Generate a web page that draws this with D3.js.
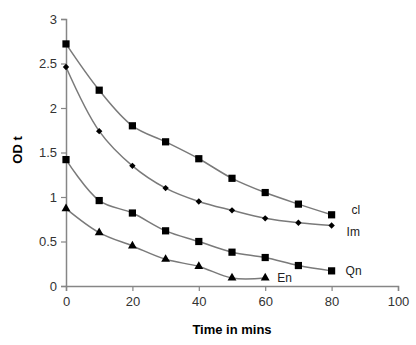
<!DOCTYPE html>
<html>
<head>
<meta charset="utf-8">
<script src="https://cdn.jsdelivr.net/npm/d3@7"></script>
<style>
  body { margin: 0; background: #fff; }
  text { font-family: "Liberation Sans", Arial, sans-serif; }
</style>
</head>
<body>
<div id="chart"></div>
<script>
const times = [0, 10, 20, 30, 40, 50, 60, 70, 80];
const clValues = [2.72, 2.2, 1.8, 1.62, 1.43, 1.21, 1.05, 0.92, 0.8];
const imValues = [2.46, 1.74, 1.35, 1.1, 0.95, 0.85, 0.76, 0.71, 0.68];
const qnValues = [1.42, 0.96, 0.82, 0.62, 0.5, 0.38, 0.32, 0.23, 0.17];
const enTimes = [0, 10, 20, 30, 40, 50, 60];
const enValues = [0.87, 0.6, 0.45, 0.3, 0.22, 0.09, 0.09];
const xTicks = [0, 20, 40, 60, 80, 100];
const yTicks = [0, 0.5, 1, 1.5, 2, 2.5, 3];

// label offsets from the last point of each curve
const series = [
  { name: "cl", x: times, y: clValues, marker: "square", dx: 20, dy: -1 },
  { name: "Im", x: times, y: imValues, marker: "diamond", dx: 15, dy: 11 },
  { name: "Qn", x: times, y: qnValues, marker: "square", dx: 14, dy: 4 },
  { name: "En", x: enTimes, y: enValues, marker: "triangle", dx: 12, dy: 4 }
];

const width = 416, height = 345;
const margin = { top: 19, right: 18, bottom: 59, left: 66 };

const svg = d3.select("#chart").append("svg")
  .attr("width", width)
  .attr("height", height);

const x = d3.scaleLinear().domain([0, 100]).range([margin.left, width - margin.right]);
const y = d3.scaleLinear().domain([0, 3]).range([height - margin.bottom, margin.top]);

const axisColor = "#868686";

const gx = svg.append("g")
  .attr("transform", `translate(0,${y(0)})`)
  .call(d3.axisBottom(x).tickValues(xTicks).tickSize(5).tickPadding(6).tickFormat(d3.format("d")));
const gy = svg.append("g")
  .attr("transform", `translate(${x(0)},0)`)
  .call(d3.axisLeft(y).tickValues(yTicks).tickSize(5).tickPadding(4).tickFormat(d => d));

[gx, gy].forEach(g => {
  g.select(".domain").attr("stroke", axisColor).attr("stroke-width", 1.5);
  g.selectAll(".tick line").attr("stroke", axisColor).attr("stroke-width", 1.2);
  g.selectAll(".tick text").style("font-size", "13px").style("fill", "#333");
});

svg.append("text")
  .attr("x", 232)
  .attr("y", 334)
  .attr("text-anchor", "middle")
  .style("font-size", "13px")
  .style("font-weight", "bold")
  .text("Time in mins");

svg.append("text")
  .attr("transform", `translate(22,150) rotate(-90)`)
  .attr("text-anchor", "middle")
  .style("font-size", "13px")
  .style("font-weight", "bold")
  .text("OD t");

const line = d3.line()
  .x(d => x(d[0]))
  .y(d => y(d[1]))
  .curve(d3.curveCatmullRom.alpha(0.5));

const symbols = {
  square: d3.symbol().type(d3.symbolSquare).size(52),
  diamond: d3.symbol().type(d3.symbolDiamond2).size(26),
  triangle: d3.symbol().type(d3.symbolTriangle).size(34)
};

series.forEach(s => {
  const pts = s.x.map((t, i) => [t, s.y[i]]);
  svg.append("path")
    .datum(pts)
    .attr("fill", "none")
    .attr("stroke", "#7a7a7a")
    .attr("stroke-width", 1.5)
    .attr("d", line);

  svg.selectAll(null)
    .data(pts)
    .enter()
    .append("path")
    .attr("transform", d => `translate(${x(d[0])},${y(d[1])})`)
    .attr("d", symbols[s.marker])
    .attr("fill", "#000");

  const last = pts[pts.length - 1];
  svg.append("text")
    .attr("x", x(last[0]) + s.dx)
    .attr("y", y(last[1]) + s.dy)
    .style("font-size", "12px")
    .style("fill", "#222")
    .text(s.name);
});
</script>
</body>
</html>
